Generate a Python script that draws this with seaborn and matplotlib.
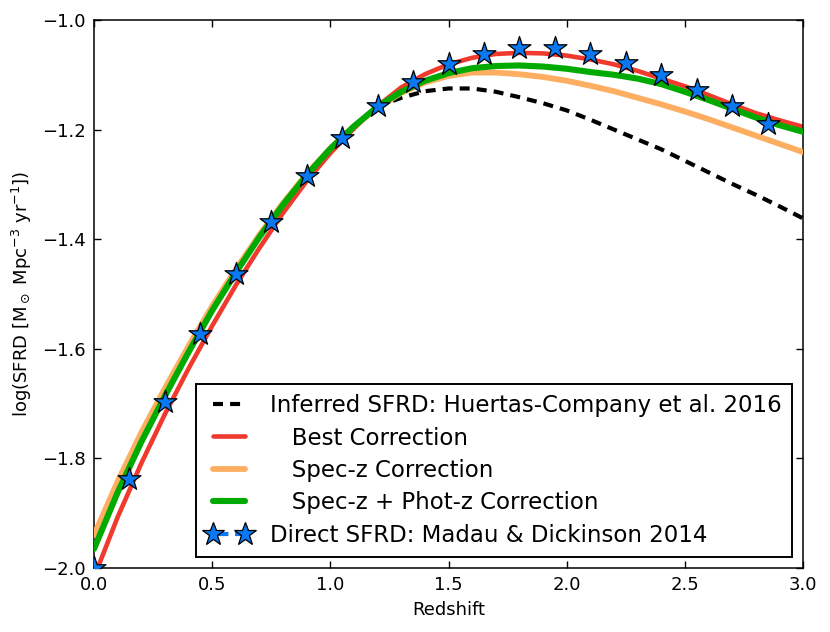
import numpy as np
import pandas as pd
import matplotlib
matplotlib.use("Agg")
import matplotlib.pyplot as plt
from matplotlib.lines import Line2D
from matplotlib.ticker import FuncFormatter
import seaborn as sns

# redshift grid for the curves (every 0.1)
z_grid = [0.0, 0.1, 0.2, 0.3, 0.4, 0.5, 0.6, 0.7, 0.8, 0.9, 1.0,
          1.1, 1.2, 1.3, 1.4, 1.5, 1.6, 1.7, 1.8, 1.9, 2.0,
          2.1, 2.2, 2.3, 2.4, 2.5, 2.6, 2.7, 2.8, 2.9, 3.0]

inferred_sfrd = [-1.965, -1.862, -1.770, -1.686, -1.606, -1.530, -1.461, -1.396, -1.337, -1.283, -1.235,
                 -1.194, -1.158, -1.142, -1.130, -1.125, -1.125, -1.131, -1.141, -1.152, -1.165,
                 -1.182, -1.200, -1.218, -1.236, -1.257, -1.278, -1.299, -1.319, -1.340, -1.362]

best_corr = [-2.017, -1.907, -1.809, -1.719, -1.636, -1.558, -1.484, -1.416, -1.352, -1.294, -1.243,
             -1.198, -1.157, -1.123, -1.099, -1.081, -1.069, -1.062, -1.060, -1.061, -1.065,
             -1.072, -1.081, -1.093, -1.107, -1.121, -1.137, -1.154, -1.170, -1.183, -1.195]

specz_corr = [-1.940, -1.842, -1.753, -1.672, -1.595, -1.522, -1.455, -1.392, -1.334, -1.281, -1.234,
              -1.194, -1.160, -1.133, -1.114, -1.102, -1.096, -1.096, -1.099, -1.104, -1.111,
              -1.120, -1.130, -1.142, -1.154, -1.167, -1.181, -1.196, -1.211, -1.226, -1.241]

spec_phot_corr = [-1.965, -1.862, -1.770, -1.686, -1.606, -1.530, -1.461, -1.396, -1.337, -1.283, -1.235,
                  -1.194, -1.158, -1.131, -1.111, -1.097, -1.088, -1.084, -1.083, -1.085, -1.089,
                  -1.095, -1.100, -1.107, -1.117, -1.131, -1.146, -1.162, -1.178, -1.192, -1.204]

# Madau & Dickinson 2014 points (stars)
md_z = [0.0, 0.15, 0.30, 0.45, 0.60, 0.75, 0.90, 1.05, 1.20, 1.35,
        1.50, 1.65, 1.80, 1.95, 2.10, 2.25, 2.40, 2.55, 2.70, 2.85]
md_sfrd = [-2.000, -1.838, -1.697, -1.573, -1.464, -1.369, -1.285, -1.215, -1.157, -1.113,
           -1.081, -1.062, -1.052, -1.052, -1.062, -1.079, -1.100, -1.127, -1.157, -1.189]

labels = ["Inferred SFRD: Huertas-Company et al. 2016",
          "   Best Correction",
          "   Spec-z Correction",
          "   Spec-z + Phot-z Correction",
          "Direct SFRD: Madau & Dickinson 2014"]

c_black = "black"
c_red = "#f03a2e"
c_orange = "#fdae61"
c_green = "#00aa00"
c_blue = "#0a78f0"

sns.set_style("ticks")
plt.rcParams["font.family"] = ["DejaVu Sans"]
plt.rcParams["mathtext.fontset"] = "dejavusans"
plt.rcParams["xtick.direction"] = "in"
plt.rcParams["ytick.direction"] = "in"
plt.rcParams["xtick.top"] = True
plt.rcParams["ytick.right"] = True
for key in ["text.color", "axes.labelcolor", "xtick.color", "ytick.color", "axes.edgecolor"]:
    plt.rcParams[key] = "black"

fig, ax = plt.subplots(figsize=(8.3, 6.32), dpi=100)
fig.subplots_adjust(left=0.1133, right=0.9675, top=0.9684, bottom=0.1013)

dash = (0, (2.4, 1.7))
sns.lineplot(x=z_grid, y=inferred_sfrd, ax=ax, color=c_black, lw=3, linestyle=dash, zorder=1)
sns.lineplot(x=z_grid, y=best_corr, ax=ax, color=c_red, lw=3.3, zorder=2)
sns.lineplot(x=z_grid, y=specz_corr, ax=ax, color=c_orange, lw=4.2, zorder=3)
sns.lineplot(x=z_grid, y=spec_phot_corr, ax=ax, color=c_green, lw=4.4, zorder=4)
sns.scatterplot(x=md_z, y=md_sfrd, ax=ax, marker="*", s=300, color=c_blue,
                edgecolor="black", linewidth=0.9, zorder=5)

ax.set_xlim(0, 3)
ax.set_ylim(-2.0, -1.0)
ax.set_xticks([0.0, 0.5, 1.0, 1.5, 2.0, 2.5, 3.0])
ax.set_yticks([-2.0, -1.8, -1.6, -1.4, -1.2, -1.0])
fmt = FuncFormatter(lambda v, pos: ("%.1f" % v).replace("-", "\u2212"))
ax.xaxis.set_major_formatter(fmt)
ax.yaxis.set_major_formatter(fmt)
ax.tick_params(axis="both", which="major", labelsize=13, length=5, width=1, pad=6, color="black")
for sp in ax.spines.values():
    sp.set_linewidth(1.1)
    sp.set_color("black")

ax.set_xlabel("Redshift", fontsize=13, labelpad=5)
ax.set_ylabel(r"log(SFRD [M$_\odot$ Mpc$^{-3}$ yr$^{-1}$])", fontsize=13, labelpad=6)

handles = [
    Line2D([], [], color=c_black, lw=3, linestyle=dash),
    Line2D([], [], color=c_red, lw=3.3),
    Line2D([], [], color=c_orange, lw=4.2),
    Line2D([], [], color=c_green, lw=4.4),
    Line2D([], [], color=c_blue, lw=3, linestyle="--", marker="*", markersize=17,
           markerfacecolor=c_blue, markeredgecolor="black", markeredgewidth=0.9),
]
leg = ax.legend(handles, labels, loc="lower right", bbox_to_anchor=(0.985, 0.02),
                borderaxespad=0, fontsize=16.5, numpoints=2, handlelength=2.0,
                handletextpad=0.8, labelspacing=0.41, borderpad=0.45,
                fancybox=False, framealpha=1, edgecolor="black")
leg.get_frame().set_linewidth(1.4)

fig.savefig("out.png", dpi=100)
